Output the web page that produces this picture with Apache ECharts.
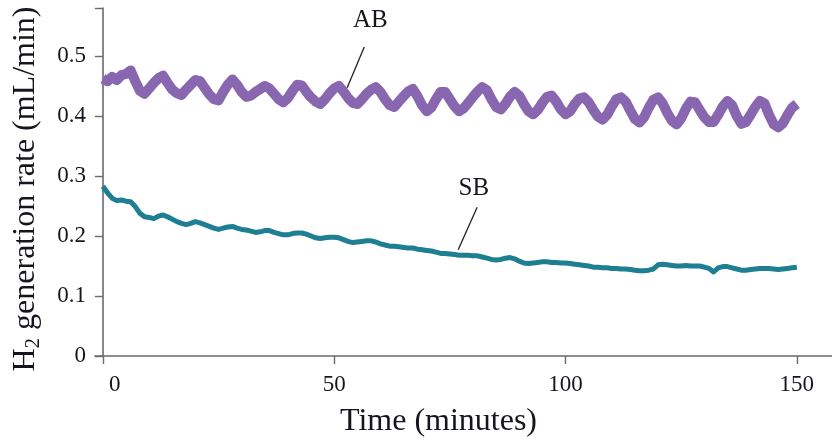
<!DOCTYPE html>
<html>
<head>
<meta charset="utf-8">
<script src="https://cdn.jsdelivr.net/npm/echarts@6/dist/echarts.min.js"></script>
<style>html,body{margin:0;padding:0;background:#fff}#c{width:832px;height:443px}</style>
</head>
<body>
<div id="c"></div>
<script>
// Time in minutes (one reading per minute)
const time = [];
for (let i = 0; i <= 150; i++) time.push(i);

const abValues = [
0.462,0.458,0.465,0.460,0.468,0.470,0.476,0.458,0.442,0.437,
0.446,0.455,0.463,0.467,0.455,0.444,0.438,0.435,0.444,0.452,
0.460,0.458,0.447,0.436,0.428,0.426,0.440,0.452,0.461,0.452,
0.440,0.432,0.434,0.440,0.445,0.450,0.446,0.437,0.428,0.423,
0.430,0.442,0.452,0.451,0.440,0.431,0.424,0.420,0.428,0.438,
0.446,0.450,0.441,0.430,0.422,0.420,0.428,0.437,0.444,0.448,
0.440,0.428,0.418,0.415,0.424,0.433,0.441,0.445,0.433,0.418,
0.408,0.414,0.428,0.440,0.440,0.428,0.416,0.408,0.413,0.422,
0.432,0.441,0.448,0.443,0.428,0.415,0.411,0.420,0.432,0.440,
0.434,0.420,0.408,0.403,0.410,0.422,0.432,0.434,0.424,0.411,
0.403,0.408,0.420,0.429,0.431,0.423,0.410,0.399,0.394,0.402,
0.416,0.428,0.431,0.424,0.409,0.395,0.389,0.398,0.414,0.427,
0.431,0.421,0.405,0.392,0.386,0.396,0.412,0.424,0.423,0.410,
0.398,0.390,0.390,0.402,0.416,0.425,0.418,0.400,0.387,0.390,
0.402,0.415,0.425,0.421,0.402,0.386,0.381,0.388,0.402,0.414,
0.420];

const sbValues = [
0.283,0.272,0.263,0.259,0.260,0.258,0.257,0.249,0.238,0.232,
0.231,0.229,0.233,0.235,0.232,0.228,0.224,0.221,0.219,0.221,
0.224,0.222,0.219,0.216,0.213,0.211,0.213,0.215,0.216,0.213,
0.211,0.210,0.208,0.206,0.207,0.209,0.209,0.206,0.204,0.202,
0.202,0.204,0.205,0.205,0.203,0.200,0.197,0.196,0.197,0.198,
0.198,0.197,0.194,0.191,0.189,0.190,0.191,0.192,0.192,0.190,
0.187,0.185,0.183,0.183,0.182,0.181,0.180,0.180,0.178,0.177,
0.176,0.175,0.173,0.171,0.171,0.170,0.169,0.168,0.168,0.168,
0.167,0.167,0.165,0.163,0.161,0.160,0.161,0.163,0.164,0.162,
0.158,0.155,0.154,0.155,0.156,0.157,0.157,0.156,0.156,0.155,
0.155,0.154,0.153,0.152,0.151,0.150,0.148,0.148,0.147,0.147,
0.146,0.146,0.145,0.145,0.144,0.143,0.142,0.142,0.143,0.145,
0.152,0.153,0.152,0.151,0.150,0.150,0.151,0.150,0.150,0.150,
0.148,0.146,0.140,0.147,0.149,0.149,0.147,0.145,0.143,0.143,
0.144,0.145,0.146,0.146,0.146,0.145,0.144,0.145,0.146,0.147,
0.148];

const xTicks = [0, 50, 100, 150];
const yTicks = [0, 0.1, 0.2, 0.3, 0.4, 0.5];

// Annotations (data coordinates): label position and leader line ends
const abLabel = [57.8, 0.560];
const abLeader = [[56.5, 0.515], [52.8, 0.447]];
const sbLabel = [80.2, 0.280];
const sbLeader = [[80.9, 0.248], [76.8, 0.177]];

const FONT = '"Liberation Serif", "Times New Roman", serif';
const TXT = '#15151f';
const AXC = '#6a6a6a';

function pairs(xs, ys) { return xs.map((x, i) => [x, ys[i]]); }

function annot(label, leader, text) {
  return {
    markLine: {
      silent: true, symbol: ['none', 'none'], animation: false,
      lineStyle: { color: '#222', width: 1.3, type: 'solid' },
      label: { show: false },
      data: [[{ coord: leader[0] }, { coord: leader[1] }]]
    },
    markPoint: {
      silent: true, animation: false, symbol: 'circle', symbolSize: 1,
      itemStyle: { color: 'rgba(0,0,0,0)' },
      label: { show: true, position: 'inside', formatter: text, fontFamily: FONT, fontSize: 25, color: TXT },
      data: [{ coord: label }]
    }
  };
}

const chart = echarts.init(document.getElementById('c'), null, { renderer: 'canvas' });
chart.setOption({
  animation: false,
  backgroundColor: '#fff',
  grid: { left: 95, right: 0, top: 8, bottom: 87, containLabel: false, outerBoundsMode: 'none' },
  xAxis: {
    type: 'value', min: -1.7, max: 157.6,
    name: 'Time (minutes)', nameLocation: 'middle', nameGap: 50,
    nameTextStyle: { fontFamily: FONT, fontSize: 32, color: TXT, padding: [0, 50, 0, 0] },
    axisLine: { show: true, onZero: true, lineStyle: { color: AXC, width: 1.6 } },
    axisTick: { show: true, inside: false, length: 8, customValues: xTicks, lineStyle: { color: AXC, width: 1.4 } },
    axisLabel: {
      customValues: xTicks, margin: 17, fontFamily: FONT, fontSize: 23, color: TXT,
      formatter: function (v) { return v === 0 ? '{z|0}' : String(v); },
      rich: { z: { fontFamily: FONT, fontSize: 23, color: TXT, padding: [0, 0, 0, 24] } }
    },
    splitLine: { show: false }
  },
  yAxis: {
    type: 'value', min: 0, max: 0.58, interval: 0.1,
    name: 'H{sub|2} generation rate (mL/min)', nameLocation: 'middle', nameGap: 51, nameRotate: 90,
    nameTextStyle: {
      fontFamily: FONT, fontSize: 32, color: TXT, padding: [0, 14, 0, 0], lineHeight: 36,
      rich: { sub: { fontFamily: FONT, fontSize: 21, color: TXT, verticalAlign: 'bottom', lineHeight: 22 } }
    },
    axisLine: { show: true, onZero: true, lineStyle: { color: AXC, width: 1.6 } },
    axisTick: { show: true, inside: false, length: 8, lineStyle: { color: AXC, width: 1.4 } },
    axisLabel: {
      margin: 9, fontFamily: FONT, fontSize: 23, color: TXT,
      formatter: function (v) { return yTicks.some(t => Math.abs(t - v) < 1e-9) ? String(Math.round(v * 10) / 10) : ''; }
    },
    splitLine: { show: false }
  },
  series: [
    Object.assign({
      name: 'AB', type: 'line', showSymbol: false, symbol: 'none',
      data: pairs(time, abValues),
      lineStyle: { color: '#8866b0', width: 10, join: 'round' },
      z: 3
    }, annot(abLabel, abLeader, 'AB')),
    Object.assign({
      name: 'SB', type: 'line', showSymbol: false, symbol: 'none',
      data: pairs(time, sbValues),
      lineStyle: { color: '#1e7f93', width: 5, join: 'round' },
      z: 3
    }, annot(sbLabel, sbLeader, 'SB'))
  ]
});
</script>
</body>
</html>
